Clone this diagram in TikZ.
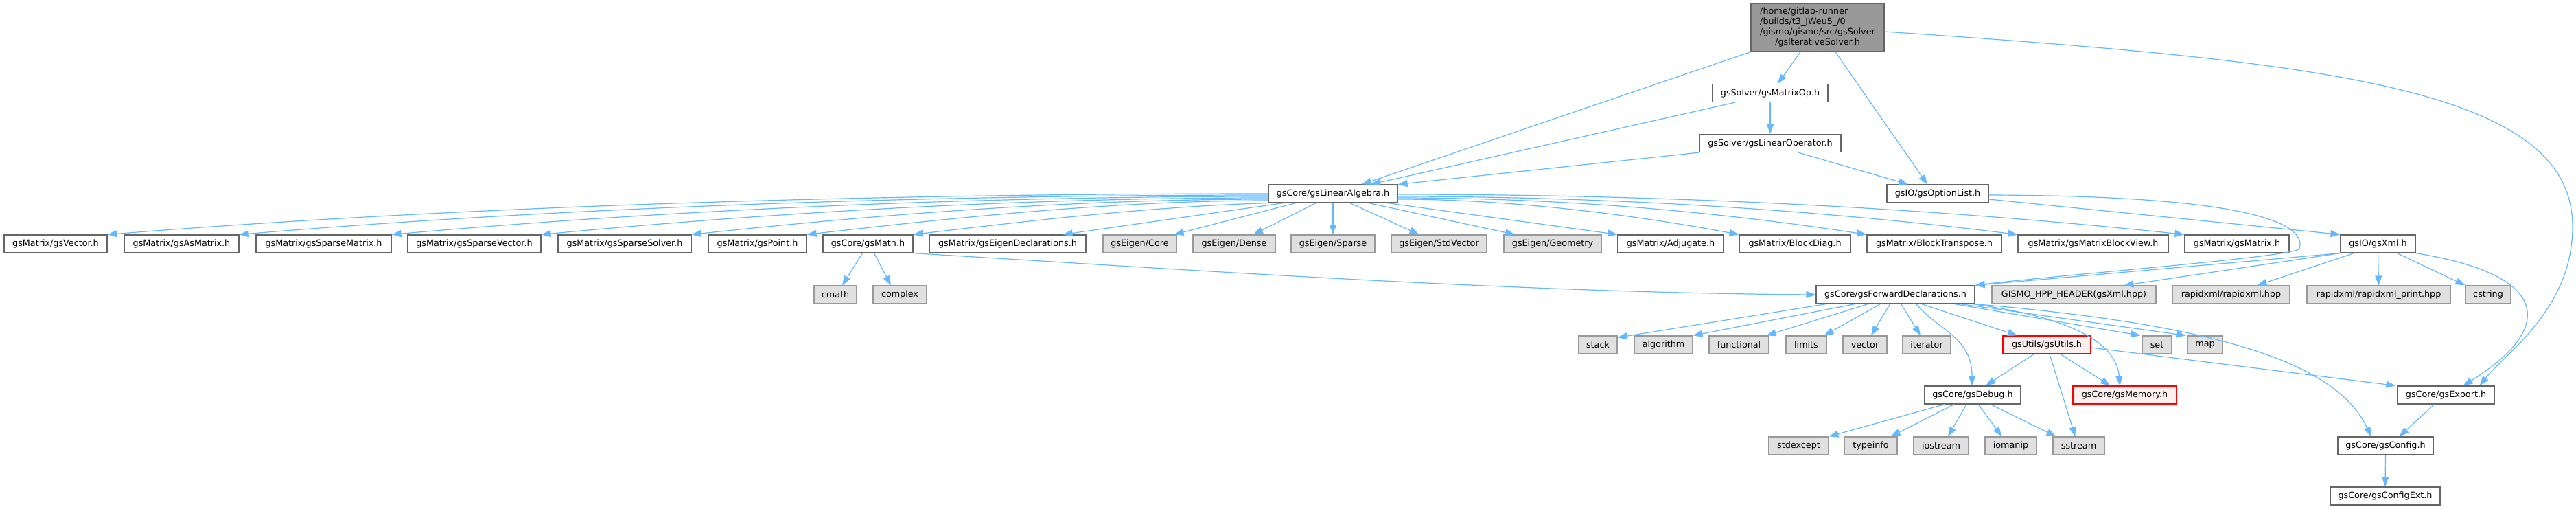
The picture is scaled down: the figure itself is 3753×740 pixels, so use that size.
\documentclass[tikz,border=0pt]{standalone}
\usepackage{fontspec}
\setmainfont{DejaVu Sans}
\usetikzlibrary{arrows.meta}
\definecolor{edgeblue}{HTML}{63B8FF}
\definecolor{nodegray}{HTML}{666666}
\definecolor{sysgray}{HTML}{999999}
\definecolor{sysfill}{HTML}{E0E0E0}
\definecolor{rootfill}{HTML}{999999}
\definecolor{truncfill}{HTML}{FFF0F0}

\begin{document}
\begin{tikzpicture}[
  x=1pt, y=-1pt,
  hdr/.style={draw=nodegray, fill=white, rectangle, line width=1.2pt, minimum height=26, inner sep=0pt, font=\fontsize{12.75}{15}\selectfont},
  sys/.style={hdr, draw=sysgray, fill=sysfill},
  trunc/.style={hdr, draw=red, fill=truncfill},
  rootbox/.style={hdr, fill=rootfill, minimum height=70},
  ptr/.style={->, >={Triangle[length=14pt,width=10pt]}, edgeblue, line width=1.2pt}
]
\useasboundingbox (0,0) rectangle (3753,740);

% top of the graph
\node[rootbox, minimum width=194] (root) at (2648,40) {\begin{tabular}{@{}l@{}}/home/gitlab-runner\\/builds/t3\_JWeu5\_/0\\/gismo/gismo/src/gsSolver\\\multicolumn{1}{@{}c@{}}{/gsIterativeSolver.h}\end{tabular}};
\node[hdr, minimum width=168] (matop) at (2579,135.5) {gsSolver/gsMatrixOp.h};
\node[hdr, minimum width=206] (linop) at (2579,208.5) {gsSolver/gsLinearOperator.h};
\node[hdr, minimum width=188] (la) at (1942,282) {gsCore/gsLinearAlgebra.h};
\node[hdr, minimum width=148] (optlist) at (2823,282) {gsIO/gsOptionList.h};

% row of includes of gsLinearAlgebra.h
\node[hdr, minimum width=150] (vec) at (81,355) {gsMatrix/gsVector.h};
\node[hdr, minimum width=167] (asm) at (264.5,355) {gsMatrix/gsAsMatrix.h};
\node[hdr, minimum width=197] (spm) at (471.5,355) {gsMatrix/gsSparseMatrix.h};
\node[hdr, minimum width=194] (spv) at (691,355) {gsMatrix/gsSparseVector.h};
\node[hdr, minimum width=194] (sps) at (910,355) {gsMatrix/gsSparseSolver.h};
\node[hdr, minimum width=143] (pt) at (1103.5,355) {gsMatrix/gsPoint.h};
\node[hdr, minimum width=131] (math) at (1264.5,355) {gsCore/gsMath.h};
\node[hdr, minimum width=228] (eigdecl) at (1468,355) {gsMatrix/gsEigenDeclarations.h};
\node[sys, minimum width=107] (core) at (1660.5,355) {gsEigen/Core};
\node[sys, minimum width=120] (dense) at (1798,355) {gsEigen/Dense};
\node[sys, minimum width=122] (sparse) at (1942,355) {gsEigen/Sparse};
\node[sys, minimum width=139] (stdvec) at (2096.5,355) {gsEigen/StdVector};
\node[sys, minimum width=142] (geom) at (2262,355) {gsEigen/Geometry};
\node[hdr, minimum width=154] (adj) at (2434,355) {gsMatrix/Adjugate.h};
\node[hdr, minimum width=162] (bdiag) at (2615,355) {gsMatrix/BlockDiag.h};
\node[hdr, minimum width=196] (btrans) at (2818,355) {gsMatrix/BlockTranspose.h};
\node[hdr, minimum width=219] (bview) at (3049.5,355) {gsMatrix/gsMatrixBlockView.h};
\node[hdr, minimum width=152] (gsmat) at (3259,355) {gsMatrix/gsMatrix.h};
\node[hdr, minimum width=109] (xml) at (3464.5,355) {gsIO/gsXml.h};

% second row
\node[sys, minimum width=62] (cmath) at (1217,429) {cmath};
\node[sys, minimum width=78] (complex) at (1311,429) {complex};
\node[hdr, minimum width=231] (fwd) at (2761.5,429) {gsCore/gsForwardDeclarations.h};
\node[sys, minimum width=239] (gismo) at (3021.5,429) {GISMO\_HPP\_HEADER(gsXml.hpp)};
\node[sys, minimum width=171] (rxml) at (3250.5,429) {rapidxml/rapidxml.hpp};
\node[sys, minimum width=209] (rxmlp) at (3465.5,429) {rapidxml/rapidxml\_print.hpp};
\node[sys, minimum width=66] (cstring) at (3625,429) {cstring};

% includes of gsForwardDeclarations.h
\node[sys, minimum width=56] (stack) at (2328,502) {stack};
\node[sys, minimum width=85] (algo) at (2423.5,502) {algorithm};
\node[sys, minimum width=87] (func) at (2533.5,502) {functional};
\node[sys, minimum width=59] (limits) at (2631.5,502) {limits};
\node[sys, minimum width=64] (vector) at (2717,502) {vector};
\node[sys, minimum width=70] (iter) at (2807,502) {iterator};
\node[trunc, minimum width=128] (utils) at (2982,502) {gsUtils/gsUtils.h};
\node[sys, minimum width=43] (set) at (3142.5,502) {set};
\node[sys, minimum width=51] (map) at (3212.5,502) {map};

\node[hdr, minimum width=140] (debug) at (2874,575) {gsCore/gsDebug.h};
\node[trunc, minimum width=151] (memory) at (3095.5,575) {gsCore/gsMemory.h};
\node[hdr, minimum width=141] (export) at (3563.5,575) {gsCore/gsExport.h};

\node[sys, minimum width=87] (stdexc) at (2620.5,649) {stdexcept};
\node[sys, minimum width=77] (typeinfo) at (2725.5,649) {typeinfo};
\node[sys, minimum width=80] (iostream) at (2828,649) {iostream};
\node[sys, minimum width=75] (iomanip) at (2929.5,649) {iomanip};
\node[sys, minimum width=75] (sstream) at (3028.5,649) {sstream};
\node[hdr, minimum width=139] (config) at (3475.5,649) {gsCore/gsConfig.h};
\node[hdr, minimum width=160] (cfgext) at (3475,722) {gsCore/gsConfigExt.h};

% edges from the root
\draw[ptr] (root.south west) -- ([xshift=42pt]la.north);
\draw[ptr] ([xshift=-25pt]root.south) -- ([xshift=11pt]matop.north);
\draw[ptr] ([xshift=26pt]root.south) -- ([xshift=-15pt]optlist.north);
\draw[ptr] ([yshift=-6pt]root.east) .. controls (3400,90) and (3748,130) .. (3748,330)
  .. controls (3748,450) and (3650,514) .. ([xshift=-22pt]export.north east);
\draw[ptr] ([xshift=-51pt]matop.south) -- ([xshift=55pt]la.north);
\draw[ptr] (matop.south) -- (linop.north);
\draw[ptr] (linop.south west) -- (la.north east);
\draw[ptr] ([xshift=41pt]linop.south) -- ([xshift=-43pt]optlist.north);
\draw[ptr] ([yshift=-8pt]optlist.east) -- (xml.north west);
\draw[ptr] ([yshift=-2pt]optlist.east) .. controls (3300,285) and (3360,330) .. (3350,362)
  .. controls (3345,374) and (3000,400) .. (fwd.north east);

% gsLinearAlgebra.h
\draw[ptr] (la.west) .. controls +(-550,0) and +(540,-43) .. (vec.north east);
\draw[ptr] ([yshift=-2pt]la.west) .. controls +(-500,0) and +(480,-40) .. (asm.north east);
\draw[ptr] ([yshift=-4pt]la.west) .. controls +(-420,0) and +(420,-37) .. (spm.north east);
\draw[ptr] ([yshift=-6pt]la.west) .. controls +(-350,0) and +(350,-33) .. (spv.north east);
\draw[ptr] ([yshift=-8pt]la.west) .. controls +(-280,0) and +(280,-30) .. (sps.north east);
\draw[ptr] ([yshift=-10pt]la.west) .. controls +(-220,0) and +(220,-25) .. (pt.north east);
\draw[ptr] (la.south west) .. controls +(-170,5) and +(170,-20) .. (math.north east);
\draw[ptr] ([xshift=22pt]la.south west) -- ([xshift=-34pt]eigdecl.north east);
\draw[ptr] ([xshift=40pt]la.south west) -- ([xshift=-4pt]core.north east);
\draw[ptr] ([xshift=-25pt]la.south) -- ([xshift=28pt]dense.north);
\draw[ptr] (la.south) -- (sparse.north);
\draw[ptr] ([xshift=25pt]la.south) -- ([xshift=-29pt]stdvec.north);
\draw[ptr] ([xshift=52pt]la.south) -- ([xshift=-55pt]geom.north);
\draw[ptr] ([xshift=-15pt]la.south east) -- (adj.north west);
\draw[ptr] ([yshift=-8pt]la.east) .. controls +(160,0) and +(-160,-30) .. (bdiag.north west);
\draw[ptr] ([yshift=-6pt]la.east) .. controls +(230,0) and +(-230,-35) .. (btrans.north west);
\draw[ptr] ([yshift=-4pt]la.east) .. controls +(300,0) and +(-300,-37) .. (bview.north west);
\draw[ptr] ([yshift=-1pt]la.east) .. controls +(380,0) and +(-380,-40) .. (gsmat.north west);

% gsMath.h and gsXml.h
\draw[ptr] ([xshift=-8pt]math.south) -- ([xshift=10pt]cmath.north);
\draw[ptr] ([xshift=9pt]math.south) -- ([xshift=-13pt]complex.north);
\draw[ptr] (math.south east) .. controls +(370,22) and +(-446,-3) .. (fwd.west);
\draw[ptr] (xml.south west) -- (fwd.north east);
\draw[ptr] (xml.south west) -- ([xshift=73pt]gismo.north);
\draw[ptr] ([xshift=20pt]xml.south west) -- ([xshift=38pt]rxml.north);
\draw[ptr] (xml.south) -- (rxmlp.north);
\draw[ptr] ([xshift=28pt]xml.south) -- (cstring.north west);
\draw[ptr] (xml.south east) .. controls +(201,32) and +(132,-82) .. ([xshift=-46pt]export.north east);

% gsForwardDeclarations.h
\draw[ptr] ([xshift=15pt]fwd.south west) -- ([yshift=-3pt]stack.north east);
\draw[ptr] ([xshift=57pt]fwd.south west) -- (algo.north east);
\draw[ptr] ([xshift=76pt]fwd.south west) -- ([xshift=-4pt]func.north east);
\draw[ptr] ([xshift=94pt]fwd.south west) -- ([xshift=-4pt]limits.north east);
\draw[ptr] ([xshift=-8pt]fwd.south) -- ([xshift=9pt]vector.north);
\draw[ptr] ([xshift=8pt]fwd.south) -- ([xshift=-9pt]iter.north);
\draw[ptr] ([xshift=30pt]fwd.south) .. controls +(35,40) and +(0,-70) .. ([xshift=-1pt]debug.north);
\draw[ptr] ([xshift=38pt]fwd.south) -- ([xshift=-43pt]utils.north);
\draw[ptr] ([xshift=-30pt]fwd.south east) -- ([xshift=-2pt]set.north west);
\draw[ptr] ([xshift=-21pt]fwd.south east) -- ([xshift=-2pt]map.north west);
\draw[ptr] ([xshift=-4pt]fwd.south east) .. controls +(150,20) and +(-5,-60) .. ([xshift=-7pt]memory.north);
\draw[ptr] (fwd.south east) .. controls +(323,28) and +(-54,-116) .. ([xshift=-21pt]config.north);

% gsUtils.h and gsDebug.h
\draw[ptr] ([xshift=-19pt]utils.south) -- ([xshift=19pt]debug.north);
\draw[ptr] ([xshift=20pt]utils.south) -- ([xshift=-21pt]memory.north);
\draw[ptr] ([xshift=4pt]utils.south) -- ([xshift=-5pt]sstream.north);
\draw[ptr] ([yshift=-4pt]utils.east) -- ([xshift=-2pt]export.north west);
\draw[ptr] ([xshift=-41pt]debug.south) -- (stdexc.north east);
\draw[ptr] ([xshift=-27pt]debug.south) -- ([xshift=-10pt]typeinfo.north east);
\draw[ptr] ([xshift=-9pt]debug.south) -- ([xshift=10pt]iostream.north);
\draw[ptr] ([xshift=8pt]debug.south) -- ([xshift=-13pt]iomanip.north);
\draw[ptr] ([xshift=26pt]debug.south) -- ([xshift=-33pt]sstream.north);
\draw[ptr] ([xshift=-17pt]export.south) -- ([xshift=20pt]config.north);
\draw[ptr] (config.south) -- (cfgext.north);
\end{tikzpicture}
\end{document}
